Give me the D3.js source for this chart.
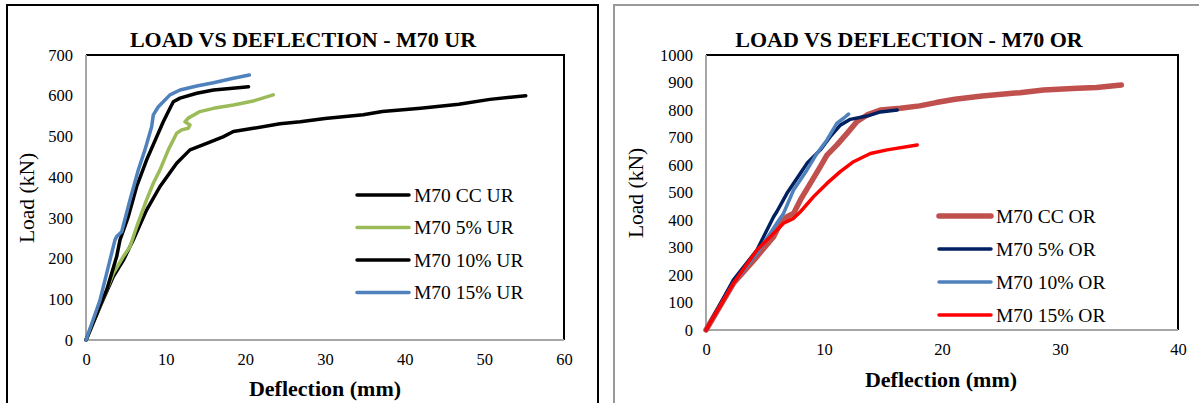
<!DOCTYPE html>
<html>
<head>
<meta charset="utf-8">
<script src="https://cdn.jsdelivr.net/npm/d3@7"></script>
<style>
  body { margin: 0; background: #fff; }
  svg { display: block; font-family: "Liberation Serif", "DejaVu Serif", serif; }
</style>
</head>
<body>
<svg id="chart" width="1199" height="403"></svg>
<script>
// ---- data (deflection mm, load kN) ----
const ccUR = [[0,0],[1.76,82],[3.43,156],[4.69,196],[5.94,246],[7.6,319],[9.29,377],[11.38,434],
  [13.05,467],[15.15,483],[17.2,499],[18.5,512],[21.0,520],[24.35,531],[26.9,536],[30.0,544],
  [34.8,553],[37.2,561],[42.0,569],[46.8,579],[50.7,591],[55.2,600]];
const p5UR = [[0,0],[1.76,82],[3.43,164],[4.69,205],[5.52,229],[6.36,278],[7.6,344],[8.45,385],
  [9.29,418],[10.33,467],[11.38,508],[12.0,516],[12.84,520],[13.05,528],[12.43,536],[12.84,545],
  [14.3,561],[16.0,569],[18.5,577],[21.0,587],[23.5,602]];
const p10UR = [[0,0],[2.6,123],[3.85,205],[4.27,246],[5.31,303],[6.36,377],[7.6,442],[8.87,499],
  [9.7,536],[10.54,569],[10.96,585],[11.8,594],[13.9,606],[16.0,614],[18.07,618],[20.4,622]];
const p15UR = [[0,0],[1.76,98],[3.64,246],[3.85,254],[4.48,266],[5.52,344],[6.57,418],[7.4,467],
  [8.24,524],[8.45,553],[9.08,573],[9.7,585],[10.54,602],[11.8,614],[13.9,624],[16.0,632],
  [18.5,643],[20.5,651]];

const ccOR = [[0,0],[2.33,170],[4.32,267],[5.73,339],[6.3,388],[6.86,412],[7.42,424],[8.0,473],
  [8.84,533],[9.69,594],[10.25,636],[11.1,673],[11.95,715],[12.8,758],[13.65,782],[14.78,800],
  [16.47,806],[18.1,815],[19.5,827],[21.1,839],[23.4,851],[26.6,863],[28.6,873],[31.5,879],
  [33.1,882],[35.2,891]];
const p5OR = [[0,0],[2.33,182],[4.32,291],[5.73,412],[6.0,430],[6.86,497],[8.0,570],[8.56,606],
  [9.69,655],[10.53,703],[11.38,745],[12.23,766],[13.65,778],[14.78,793],[16.2,800]];
const p10OR = [[0,0],[2.33,170],[4.32,279],[5.45,352],[6.0,388],[6.57,424],[7.42,509],[8.56,582],
  [9.4,642],[10.25,691],[11.1,752],[11.66,770],[12.08,785]];
const p15OR = [[0,0],[2.33,170],[4.32,291],[5.45,339],[6.57,388],[7.42,406],[8.0,430],[9.12,485],
  [10.25,533],[11.38,576],[12.5,612],[13.93,642],[15.34,655],[17.9,673]];

const xTicksUR = [0, 10, 20, 30, 40, 50, 60];
const yTicksUR = [0, 100, 200, 300, 400, 500, 600, 700];
const xTicksOR = [0, 10, 20, 30, 40];
const yTicksOR = [0, 100, 200, 300, 400, 500, 600, 700, 800, 900, 1000];

const seriesUR = [
  { name: "M70 CC UR", data: ccUR, color: "#000000", width: 3.5 },
  { name: "M70 5% UR", data: p5UR, color: "#9BBB59", width: 3.5 },
  { name: "M70 10% UR", data: p10UR, color: "#000000", width: 3.5 },
  { name: "M70 15% UR", data: p15UR, color: "#4F81BD", width: 3.5 }
];
const seriesOR = [
  { name: "M70 CC OR", data: ccOR, color: "#C0504D", width: 5.5 },
  { name: "M70 5% OR", data: p5OR, color: "#002060", width: 3.5 },
  { name: "M70 10% OR", data: p10OR, color: "#4F81BD", width: 3.5 },
  { name: "M70 15% OR", data: p15OR, color: "#FF0000", width: 3.5 }
];

const svg = d3.select("#chart");

// outer frames
svg.append("rect").attr("x", 7).attr("y", 5).attr("width", 591).attr("height", 420)
  .attr("fill", "none").attr("stroke", "#000").attr("stroke-width", 2);
svg.append("rect").attr("x", 614).attr("y", 5).attr("width", 620).attr("height", 420)
  .attr("fill", "none").attr("stroke", "#999").attr("stroke-width", 2);

function drawChart(cfg) {
  const x = d3.scaleLinear().domain(cfg.xDomain).range([cfg.left, cfg.right]);
  const y = d3.scaleLinear().domain(cfg.yDomain).range([cfg.bottom, cfg.top]);
  const g = svg.append("g");

  // plot frame: black top/right, grey axes
  g.append("path")
    .attr("d", `M${cfg.left},${cfg.top}H${cfg.right}V${cfg.bottom}`)
    .attr("fill", "none").attr("stroke", "#000").attr("stroke-width", 2);
  g.append("path")
    .attr("d", `M${cfg.left},${cfg.top}V${cfg.bottom}H${cfg.right}`)
    .attr("fill", "none").attr("stroke", "#A6A6A6").attr("stroke-width", 2);

  const xAxis = g.append("g")
    .attr("transform", `translate(0,${cfg.bottom})`)
    .call(d3.axisBottom(x).tickValues(cfg.xTicks).tickFormat(d3.format("d")).tickSize(0).tickPadding(13));
  const yAxis = g.append("g")
    .attr("transform", `translate(${cfg.left},0)`)
    .call(d3.axisLeft(y).tickValues(cfg.yTicks).tickFormat(d3.format("d")).tickSize(0).tickPadding(13));
  [xAxis, yAxis].forEach(a => {
    a.select(".domain").remove();
    a.selectAll("text").attr("font-family", "Liberation Serif").attr("font-size", 16.5).attr("fill", "#000");
  });

  const line = d3.line().x(d => x(d[0])).y(d => y(d[1]));
  g.selectAll(".series")
    .data(cfg.series)
    .enter().append("path")
    .attr("class", "series")
    .attr("d", d => line(d.data))
    .attr("fill", "none")
    .attr("stroke", d => d.color)
    .attr("stroke-width", d => d.width)
    .attr("stroke-linejoin", "round")
    .attr("stroke-linecap", "round");

  // title and axis labels
  g.append("text")
    .attr("x", cfg.titleX).attr("y", 47)
    .attr("text-anchor", "middle")
    .attr("font-size", 22).attr("font-weight", "bold")
    .text(cfg.title);
  g.append("text")
    .attr("transform", `translate(${cfg.yLabelX},${cfg.yLabelY}) rotate(-90)`)
    .attr("text-anchor", "middle").attr("dominant-baseline", "central")
    .attr("font-size", 21.5)
    .text("Load (kN)");
  g.append("text")
    .attr("x", cfg.xLabelX).attr("y", cfg.xLabelY)
    .attr("text-anchor", "middle")
    .attr("font-size", 22).attr("font-weight", "bold")
    .text("Deflection (mm)");

  // legend
  const leg = g.selectAll(".legend")
    .data(cfg.series)
    .enter().append("g")
    .attr("transform", (d, i) => `translate(${cfg.legendX},${cfg.legendY + i * cfg.legendStep})`);
  leg.append("line")
    .attr("x1", 0).attr("x2", 52)
    .attr("stroke", d => d.color)
    .attr("stroke-width", d => d.width)
    .attr("stroke-linecap", "round");
  leg.append("text")
    .attr("x", 57).attr("dominant-baseline", "central")
    .attr("font-size", 19.5)
    .text(d => d.name);
}

drawChart({
  xDomain: [0, 60], yDomain: [0, 700],
  left: 86, right: 564, top: 55, bottom: 340,
  xTicks: xTicksUR, yTicks: yTicksUR, series: seriesUR,
  title: "LOAD VS DEFLECTION - M70 UR", titleX: 303,
  yLabelX: 27, yLabelY: 198, xLabelX: 325, xLabelY: 396,
  legendX: 357, legendY: 195, legendStep: 32.5
});

drawChart({
  xDomain: [0, 40], yDomain: [0, 1000],
  left: 706, right: 1178, top: 55, bottom: 330,
  xTicks: xTicksOR, yTicks: yTicksOR, series: seriesOR,
  title: "LOAD VS DEFLECTION - M70 OR", titleX: 909,
  yLabelX: 636, yLabelY: 193, xLabelX: 941, xLabelY: 387,
  legendX: 939, legendY: 216, legendStep: 33
});
</script>
</body>
</html>
